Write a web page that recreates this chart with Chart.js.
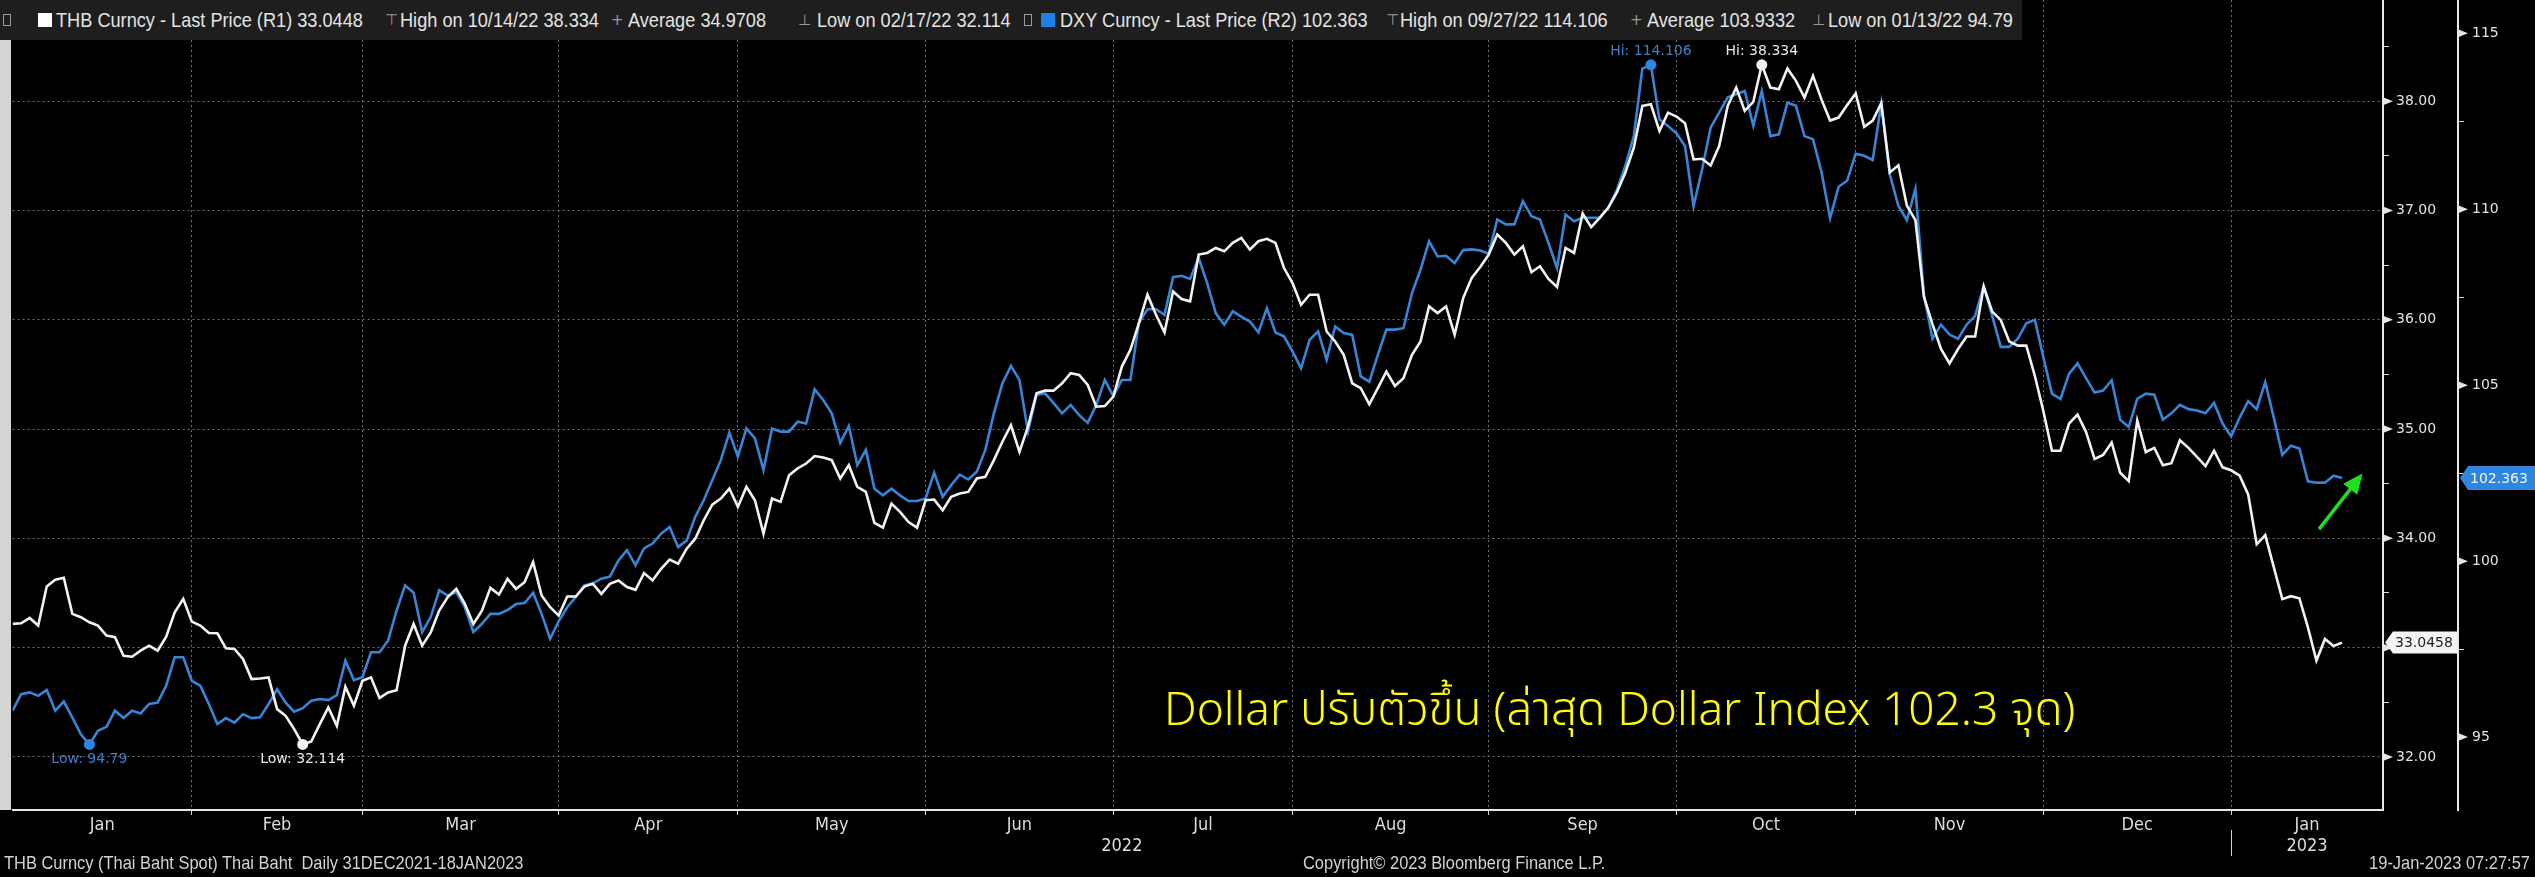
<!DOCTYPE html>
<html>
<head>
<meta charset="utf-8">
<script src="https://cdn.jsdelivr.net/npm/chart.js@4.4.1/dist/chart.umd.min.js"></script>
<style>
html,body{margin:0;padding:0;background:#000;width:2535px;height:877px;overflow:hidden}
#wrap{position:relative;width:2535px;height:877px;background:#000}
#c{position:absolute;left:0;top:0}
.lg{position:absolute;left:0;top:0;width:2022px;height:40px;background:#1e1e1e}
.t{position:absolute;top:0;white-space:nowrap;font-family:"Liberation Sans",Arial,sans-serif;font-size:21px;line-height:40px;color:#e4e4e4;transform-origin:0 50%;transform:scaleX(0.865)}
.s{position:absolute;top:0;white-space:nowrap;font-family:"DejaVu Sans",sans-serif;font-size:15px;line-height:40px;color:#9a9a9a}
.ic{position:absolute;top:14px;width:6px;height:10px;border:1px solid #9a9a9a}
.sq{position:absolute;top:13px;width:14px;height:14px}
.f{position:absolute;top:851px;white-space:nowrap;font-family:"Liberation Sans",Arial,sans-serif;font-size:19px;line-height:24px;color:#d2d2d2;transform-origin:0 50%;transform:scaleX(0.865)}
#note{position:absolute;left:1164px;top:680px;white-space:nowrap;font-family:"Noto Sans Thai","Noto Sans","Loma","Garuda",sans-serif;font-weight:300;font-size:46px;line-height:62px;color:#ffff00}
</style>
</head>
<body>
<div id="wrap">
<canvas id="c" width="2535" height="877"></canvas>
<div class="lg"></div>
<div class="ic" style="left:3px"></div>
<div class="sq" style="left:38px;background:#ffffff"></div>
<span class="t" style="left:56px">THB Curncy - Last Price (R1) 33.0448</span>
<span class="s" style="left:385px">⊤</span>
<span class="t" style="left:400px">High on 10/14/22 38.334</span>
<span class="s" style="left:611px">+</span>
<span class="t" style="left:628px">Average 34.9708</span>
<span class="s" style="left:798px">⊥</span>
<span class="t" style="left:817px">Low on 02/17/22 32.114</span>
<div class="ic" style="left:1024px"></div>
<div class="sq" style="left:1041px;background:#1f80e6"></div>
<span class="t" style="left:1060px">DXY Curncy - Last Price (R2) 102.363</span>
<span class="s" style="left:1386px">⊤</span>
<span class="t" style="left:1400px">High on 09/27/22 114.106</span>
<span class="s" style="left:1630px">+</span>
<span class="t" style="left:1647px">Average 103.9332</span>
<span class="s" style="left:1812px">⊥</span>
<span class="t" style="left:1828px">Low on 01/13/22 94.79</span>
<div id="note">Dollar ปรับตัวขึ้น (ล่าสุด Dollar Index 102.3 จุด)</div>
<span class="f" style="left:4px">THB Curncy (Thai Baht Spot) Thai Baht&nbsp; Daily 31DEC2021-18JAN2023</span>
<span class="f" style="left:1303px">Copyright© 2023 Bloomberg Finance L.P.</span>
<span class="f" style="right:5px;transform-origin:100% 50%">19-Jan-2023 07:27:57</span>
</div>
<script>
// x = trading-day number since 31 Dec 2021 (weekends skipped)
const thb = [
33.217,33.223,33.272,33.202,33.559,33.621,33.639,33.309,33.278,33.232,
33.202,33.110,33.095,32.926,32.917,32.972,33.018,32.972,33.101,33.324,
33.446,33.238,33.202,33.134,33.131,32.994,32.988,32.896,32.712,32.718,
32.728,32.437,32.376,32.254,32.114,32.141,32.300,32.452,32.284,32.642,
32.468,32.697,32.728,32.538,32.590,32.611,33.018,33.217,33.018,33.140,
33.339,33.462,33.538,33.400,33.217,33.339,33.547,33.486,33.630,33.538,
33.599,33.783,33.477,33.370,33.293,33.468,33.468,33.559,33.584,33.492,
33.584,33.615,33.554,
33.529,33.682,33.615,33.722,33.805,33.768,33.906,33.997,34.166,34.309,
34.364,34.456,34.288,34.471,34.349,34.043,34.364,34.334,34.578,34.640,
34.685,34.753,34.740,34.716,34.548,34.670,34.471,34.425,34.141,34.098,
34.318,34.242,34.150,34.098,34.349,34.355,34.257,34.380,34.410,34.425,
34.548,34.563,34.716,34.884,35.037,34.792,35.022,35.328,35.352,35.352,
35.419,35.511,35.496,35.404,35.205,35.211,35.297,35.572,35.725,35.970,
36.230,36.046,35.884,36.260,36.190,36.169,36.597,36.612,36.658,
36.627,36.704,36.750,36.643,36.719,36.741,36.704,36.474,36.337,36.138,
36.230,36.230,35.893,35.802,35.679,35.419,35.374,35.227,35.374,35.526,
35.395,35.465,35.679,35.802,36.123,36.062,36.123,35.863,36.199,36.383,
36.484,36.597,36.780,36.704,36.597,36.673,36.435,36.490,36.374,36.300,
36.658,36.612,36.973,36.848,36.933,37.025,37.163,37.346,37.575,37.958,
37.973,37.728,37.896,37.860,37.799,37.468,37.474,37.413,37.591,37.958,
38.126,37.912,37.994,38.334,38.126,38.111,38.300,38.187,38.034,38.233,
38.015,
37.824,37.851,37.965,38.072,37.767,37.824,37.984,37.349,37.414,37.045,
36.912,36.209,35.961,35.733,35.600,35.733,35.847,35.847,36.304,36.075,
35.999,35.802,35.764,35.764,35.486,35.163,34.802,34.802,35.049,35.133,
34.973,34.726,34.764,34.878,34.600,34.524,35.079,34.790,34.828,34.669,
34.688,34.897,34.828,34.745,34.661,34.802,34.650,34.623,34.574,34.402,
33.946,34.030,33.737,33.444,33.471,33.452,33.186,32.882,33.079,33.015,
33.0458
];
const dxy = [
95.75,96.22,96.27,96.17,96.34,95.75,96.01,95.56,95.08,94.79,
95.18,95.29,95.75,95.54,95.75,95.67,95.94,95.98,96.46,97.27,
97.27,96.60,96.46,95.94,95.37,95.54,95.41,95.65,95.54,95.56,
95.94,96.36,95.98,95.72,95.82,96.03,96.08,96.05,96.19,97.17,
96.62,96.70,97.41,97.41,97.74,98.59,99.31,99.10,97.98,98.41,
99.17,99.02,99.12,98.69,97.98,98.22,98.50,98.50,98.61,98.78,
98.81,99.10,98.50,97.79,98.29,98.69,98.98,99.31,99.37,99.50,
99.56,100.02,100.31,
99.88,100.36,100.50,100.78,100.97,100.40,100.59,101.26,101.73,102.30,
102.87,103.65,102.97,103.77,103.49,102.59,103.77,103.68,103.68,103.96,
103.91,104.88,104.58,104.20,103.36,103.84,102.73,103.16,102.06,101.87,
102.06,101.87,101.71,101.71,101.78,102.51,101.83,102.16,102.46,102.32,
102.54,103.16,104.20,105.05,105.55,105.15,103.68,104.72,104.77,104.49,
104.20,104.44,104.15,103.93,104.44,105.15,104.69,105.15,105.15,106.77,
107.16,107.16,107.00,108.07,108.11,108.02,108.62,107.90,107.05,
106.72,107.10,106.95,106.81,106.50,107.19,106.50,106.39,105.96,105.48,
106.29,106.53,105.72,106.67,106.48,106.43,105.25,105.10,105.86,106.58,
106.58,106.62,107.62,108.28,109.09,108.66,108.68,108.47,108.84,108.86,
108.83,108.74,109.71,109.57,109.57,110.23,109.80,109.71,109.04,108.33,
109.85,109.66,109.76,109.76,109.76,110.04,110.54,111.23,112.08,114.00,
114.106,112.56,112.37,112.16,111.80,110.09,111.13,112.32,112.75,113.18,
113.27,113.36,112.37,113.36,112.08,112.13,113.03,112.94,112.08,111.99,
111.05,
109.75,110.64,110.81,111.58,111.52,111.40,113.00,110.99,110.10,109.69,
110.58,107.57,106.32,106.72,106.44,106.32,106.72,106.97,107.82,106.97,
106.09,106.09,106.32,106.76,106.86,105.79,104.76,104.61,105.32,105.62,
105.20,104.79,104.85,105.14,104.02,103.81,104.61,104.76,104.73,104.02,
104.20,104.44,104.32,104.28,104.20,104.50,103.91,103.55,104.08,104.55,
104.32,105.09,104.08,103.02,103.28,103.20,102.27,102.23,102.23,102.43,
102.363
];
// last trading day of each month (grid lines) and month labels
const monthEnds = [21,41,64,85,107,129,150,173,195,216,238,260];
const monthLabels = ['Jan','Feb','Mar','Apr','May','Jun','Jul','Aug','Sep','Oct','Nov','Dec','Jan'];
const yearEnds = [260];
const yearLabels = ['2022','2023'];
const xRange = [0, 277.8];
const thbTicks = [32,33,34,35,36,37,38];
const thbRange = [31.514, 38.927];
const dxyTicks = [95,100,105,110,115];
const dxyRange = [92.927, 115.948];
// annotation arrow (x in trading days, y on DXY scale)
const arrowFrom = [270.3, 100.91];
const arrowTo = [275.4, 102.49];

const WHITE = '#f2f2f2';
const BLUE = '#3885d8';
const BLUE_TXT = '#3d7fcc';
const NUM_FONT = '"DejaVu Sans", Verdana, sans-serif';
const NARROW = '"Liberation Sans Narrow", "DejaVu Sans Condensed", "Liberation Sans", sans-serif';

const bounds = [xRange[0], ...monthEnds, xRange[1]];
const monthMids = monthLabels.map((_, i) => (bounds[i] + bounds[i + 1]) / 2);
const ybounds = [xRange[0], ...yearEnds, xRange[1]];
const yearMids = yearLabels.map((_, i) => (ybounds[i] + ybounds[i + 1]) / 2);
const near = (arr, v) => arr.findIndex(a => Math.abs(a - v) < 1e-6);

const thbHi = thb.indexOf(Math.max(...thb)), thbLo = thb.indexOf(Math.min(...thb));
const dxyHi = dxy.indexOf(Math.max(...dxy)), dxyLo = dxy.indexOf(Math.min(...dxy));

function withHalves(list) {
  const out = [];
  list.forEach(v => { out.push(v - 0.5 * (list[1] - list[0])); out.push(v); });
  out.push(list[list.length - 1] + 0.5 * (list[1] - list[0]));
  return out;
}

const zeroPad = s => { s.paddingLeft = 0; s.paddingRight = 0; s.paddingTop = 0; s.paddingBottom = 0; };

const bbPlugin = {
  id: 'bb',
  beforeDraw(chart) {
    const { ctx, chartArea: a } = chart;
    ctx.save();
    ctx.fillStyle = '#000';
    ctx.fillRect(0, 0, chart.width, chart.height);
    ctx.fillStyle = '#d4d4d4';
    ctx.fillRect(0, 40, Math.floor(a.left) - 1, a.bottom - 40);
    ctx.restore();
  },
  afterDraw(chart) {
    const { ctx, scales } = chart;
    ctx.save();
    // major tick markers
    [['yThb', thbTicks], ['yDxy', dxyTicks]].forEach(([id, list]) => {
      const s = scales[id];
      ctx.fillStyle = '#e6e6e6';
      list.forEach(v => {
        const y = s.getPixelForValue(v);
        ctx.beginPath();
        ctx.moveTo(s.left, y - 4);
        ctx.lineTo(s.left + 10, y);
        ctx.lineTo(s.left, y + 4);
        ctx.closePath();
        ctx.fill();
      });
    });
    // year separator
    const xs = scales.x;
    ctx.strokeStyle = '#cfcfcf';
    ctx.lineWidth = 1;
    yearEnds.forEach(v => {
      const x = Math.round(xs.getPixelForValue(v)) + 0.5;
      ctx.beginPath(); ctx.moveTo(x, 830); ctx.lineTo(x, 856); ctx.stroke();
    });
    // hi / low labels
    ctx.font = '14px ' + NUM_FONT;
    ctx.textAlign = 'center';
    ctx.textBaseline = 'middle';
    const m0 = chart.getDatasetMeta(0).data, m1 = chart.getDatasetMeta(1).data;
    ctx.fillStyle = '#e8e8e8';
    ctx.fillText('Hi: ' + thb[thbHi], m0[thbHi].x, m0[thbHi].y - 13);
    ctx.fillText('Low: ' + thb[thbLo], m0[thbLo].x, m0[thbLo].y + 15);
    ctx.fillStyle = BLUE_TXT;
    ctx.fillText('Hi: ' + dxy[dxyHi], m1[dxyHi].x, m1[dxyHi].y - 13);
    ctx.fillText('Low: ' + dxy[dxyLo], m1[dxyLo].x, m1[dxyLo].y + 15);
    // last value tags
    const tag = (x, y, w, h, fill, col, text) => {
      ctx.beginPath();
      ctx.moveTo(x, y);
      ctx.lineTo(x + 8, y - h / 2);
      ctx.lineTo(x + w, y - h / 2);
      ctx.lineTo(x + w, y + h / 2);
      ctx.lineTo(x + 8, y + h / 2);
      ctx.closePath();
      ctx.fillStyle = fill;
      ctx.fill();
      ctx.fillStyle = col;
      ctx.font = '14px ' + NUM_FONT;
      ctx.textAlign = 'left';
      ctx.textBaseline = 'middle';
      ctx.fillText(text, x + 10, y + 1);
    };
    const st = scales.yThb, sd = scales.yDxy;
    const lt = thb[thb.length - 1], ld = dxy[dxy.length - 1];
    tag(st.left + 2, st.getPixelForValue(lt), 72, 22, '#f4f4f4', '#222', String(lt));
    tag(sd.left + 2, sd.getPixelForValue(ld), 76, 24, '#2e86de', '#eef5ff', String(ld));
    // green arrow
    const x1 = xs.getPixelForValue(arrowFrom[0]), y1 = sd.getPixelForValue(arrowFrom[1]);
    const x2 = xs.getPixelForValue(arrowTo[0]), y2 = sd.getPixelForValue(arrowTo[1]);
    const ang = Math.atan2(y2 - y1, x2 - x1);
    ctx.strokeStyle = '#1fe01f';
    ctx.fillStyle = '#1fe01f';
    ctx.lineWidth = 3.5;
    ctx.beginPath();
    ctx.moveTo(x1, y1);
    ctx.lineTo(x2 - 14 * Math.cos(ang), y2 - 14 * Math.sin(ang));
    ctx.stroke();
    ctx.beginPath();
    ctx.moveTo(x2, y2);
    ctx.lineTo(x2 - 20 * Math.cos(ang) + 9 * Math.sin(ang), y2 - 20 * Math.sin(ang) - 9 * Math.cos(ang));
    ctx.lineTo(x2 - 20 * Math.cos(ang) - 9 * Math.sin(ang), y2 - 20 * Math.sin(ang) + 9 * Math.cos(ang));
    ctx.closePath();
    ctx.fill();
    ctx.restore();
  }
};

new Chart(document.getElementById('c'), {
  type: 'line',
  data: {
    datasets: [
      {
        label: 'THB Curncy', data: thb.map((v, i) => ({ x: i, y: v })),
        xAxisID: 'x', yAxisID: 'yThb',
        borderColor: WHITE, borderWidth: 2.6, tension: 0, fill: false,
        pointRadius: c => (c.dataIndex === thbHi || c.dataIndex === thbLo) ? 5.5 : 0,
        pointBackgroundColor: WHITE, pointBorderWidth: 0, pointHoverRadius: 0
      },
      {
        label: 'DXY Curncy', data: dxy.map((v, i) => ({ x: i, y: v })),
        xAxisID: 'x', yAxisID: 'yDxy',
        borderColor: BLUE, borderWidth: 2.6, tension: 0, fill: false,
        pointRadius: c => (c.dataIndex === dxyHi || c.dataIndex === dxyLo) ? 5.5 : 0,
        pointBackgroundColor: '#2f86e2', pointBorderWidth: 0, pointHoverRadius: 0
      }
    ]
  },
  options: {
    responsive: false, animation: false, devicePixelRatio: 1, events: [],
    layout: { padding: { left: 12.6, top: 0, right: 0, bottom: 19 } },
    plugins: { legend: { display: false }, tooltip: { enabled: false } },
    scales: {
      x: {
        type: 'linear', position: 'bottom', weight: 0, min: xRange[0], max: xRange[1],
        afterBuildTicks: s => { s.ticks = [...monthEnds, ...monthMids].sort((a, b) => a - b).map(v => ({ value: v })); },
        afterFit: s => { s.height = 24; zeroPad(s); },
        grid: {
          color: c => near(monthEnds, c.tick.value) >= 0 ? '#6e6e6e' : 'rgba(0,0,0,0)',
          tickColor: c => near(monthEnds, c.tick.value) >= 0 ? '#d8d8d8' : 'rgba(0,0,0,0)',
          lineWidth: 1, tickLength: 5, drawTicks: true
        },
        border: { display: true, color: '#e8e8e8', width: 2, dash: [2, 3] },
        ticks: {
          autoSkip: false, maxRotation: 0, padding: 0, color: '#dcdcdc',
          font: { family: NARROW, size: 18 },
          callback: v => { const i = near(monthMids, v); return i >= 0 ? monthLabels[i] : ''; }
        }
      },
      xYear: {
        type: 'linear', position: 'bottom', weight: 1, min: xRange[0], max: xRange[1],
        afterBuildTicks: s => { s.ticks = yearMids.map(v => ({ value: v })); },
        afterFit: s => { s.height = 24; zeroPad(s); },
        grid: { display: false, drawTicks: false },
        border: { display: false },
        ticks: {
          autoSkip: false, maxRotation: 0, padding: 2, color: '#dcdcdc',
          font: { family: NARROW, size: 18 },
          callback: v => { const i = near(yearMids, v); return i >= 0 ? yearLabels[i] : ''; }
        }
      },
      yThb: {
        type: 'linear', position: 'right', weight: 0, min: thbRange[0], max: thbRange[1],
        afterBuildTicks: s => { s.ticks = withHalves(thbTicks).filter(v => v >= thbRange[0] && v <= thbRange[1]).map(v => ({ value: v })); },
        afterFit: s => { s.width = 75; zeroPad(s); },
        grid: {
          color: c => near(thbTicks, c.tick.value) >= 0 ? '#6e6e6e' : 'rgba(0,0,0,0)',
          tickColor: c => near(thbTicks, c.tick.value) >= 0 ? 'rgba(0,0,0,0)' : '#d8d8d8',
          lineWidth: 1, tickLength: 6, drawTicks: true
        },
        border: { display: true, color: '#e8e8e8', width: 2, dash: [2, 3] },
        ticks: {
          autoSkip: false, padding: 7, color: '#e2e2e2', font: { family: NUM_FONT, size: 14 },
          callback: v => near(thbTicks, v) >= 0 ? v.toFixed(2) : ''
        }
      },
      yDxy: {
        type: 'linear', position: 'right', weight: 1, min: dxyRange[0], max: dxyRange[1],
        afterBuildTicks: s => { s.ticks = withHalves(dxyTicks).filter(v => v >= dxyRange[0] && v <= dxyRange[1]).map(v => ({ value: v })); },
        afterFit: s => { s.width = 77; zeroPad(s); },
        grid: {
          drawOnChartArea: false,
          tickColor: c => near(dxyTicks, c.tick.value) >= 0 ? 'rgba(0,0,0,0)' : '#d8d8d8',
          lineWidth: 1, tickLength: 6, drawTicks: true
        },
        border: { display: true, color: '#e8e8e8', width: 2 },
        ticks: {
          autoSkip: false, padding: 8, color: '#e2e2e2', font: { family: NUM_FONT, size: 14 },
          callback: v => near(dxyTicks, v) >= 0 ? String(v) : ''
        }
      }
    }
  },
  plugins: [bbPlugin]
});
</script>
</body>
</html>
